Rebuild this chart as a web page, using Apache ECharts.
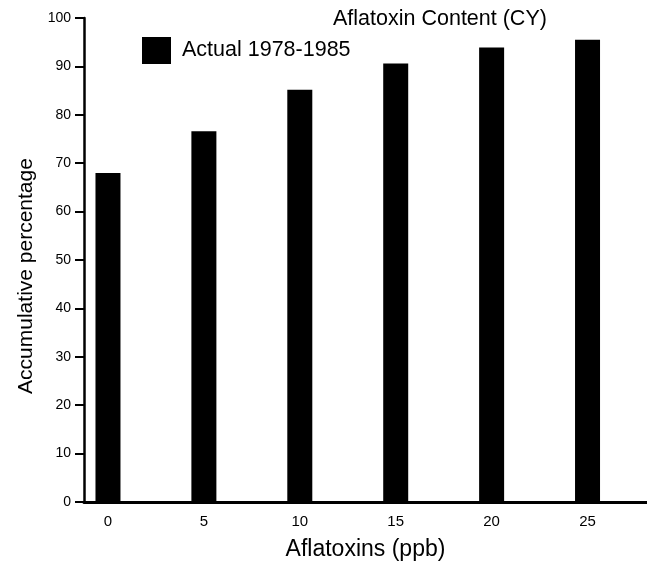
<!DOCTYPE html>
<html>
<head>
<meta charset="utf-8">
<script src="https://cdn.jsdelivr.net/npm/echarts@6/dist/echarts.min.js"></script>
<style>
html,body{margin:0;padding:0;background:#fff;}
#chart{width:647px;height:566px;}
</style>
</head>
<body>
<div id="chart"></div>
<script>
const categories = [0, 5, 10, 15, 20, 25];
const actualValues = [68, 76.6, 85.2, 90.6, 93.9, 95.5];
const yTicks = [0, 10, 20, 30, 40, 50, 60, 70, 80, 90, 100];
const seriesName = 'Actual 1978-1985';
const chartTitle = 'Aflatoxin Content (CY)';
const xName = 'Aflatoxins (ppb)';
const yName = 'Accumulative percentage';

const chart = echarts.init(document.getElementById('chart'), null, {renderer: 'canvas'});
const font = '"Liberation Sans", Arial, Helvetica, sans-serif';
chart.setOption({
  animation: false,
  backgroundColor: '#fff',
  textStyle: {fontFamily: font, color: '#000'},
  title: {
    text: chartTitle,
    left: 333, top: 8, padding: 0,
    textStyle: {fontFamily: font, fontSize: 21.5, fontWeight: 'normal', color: '#000'}
  },
  legend: {
    data: [seriesName],
    left: 142, top: 37, padding: 0,
    icon: 'rect',
    itemWidth: 29, itemHeight: 27, itemGap: 10,
    textStyle: {fontFamily: font, fontSize: 21.5, color: '#000', padding: [0, 0, 0, 6]}
  },
  grid: {left: 84, right: 0, top: 18, bottom: 61, containLabel: false},
  xAxis: {
    type: 'value',
    min: -1.25, max: 28.1,
    name: xName, nameLocation: 'middle', nameGap: 36,
    nameTextStyle: {fontFamily: font, fontSize: 23, color: '#000'},
    axisLine: {show: true, onZero: false, lineStyle: {color: '#000', width: 3}},
    axisTick: {show: false},
    splitLine: {show: false},
    axisLabel: {customValues: categories, fontFamily: font, fontSize: 15, color: '#000', margin: 12}
  },
  yAxis: {
    type: 'value',
    min: 0, max: 100, interval: 10,
    name: yName, nameLocation: 'middle', nameGap: 46,
    nameTextStyle: {fontFamily: font, fontSize: 21, color: '#000', padding: [0, 32, 0, 0]},
    axisLine: {show: true, onZero: false, lineStyle: {color: '#000', width: 2.5}},
    axisTick: {show: true, inside: false, length: 9, lineStyle: {color: '#000', width: 2}},
    splitLine: {show: false},
    axisLabel: {fontFamily: font, fontSize: 14, color: '#000', margin: 13,
      formatter: v => yTicks.includes(v) ? String(v) : ''}
  },
  series: [{
    name: seriesName,
    type: 'bar',
    barWidth: 25,
    itemStyle: {color: '#000'},
    data: categories.map((c, i) => [c, actualValues[i]])
  }]
});
</script>
</body>
</html>
